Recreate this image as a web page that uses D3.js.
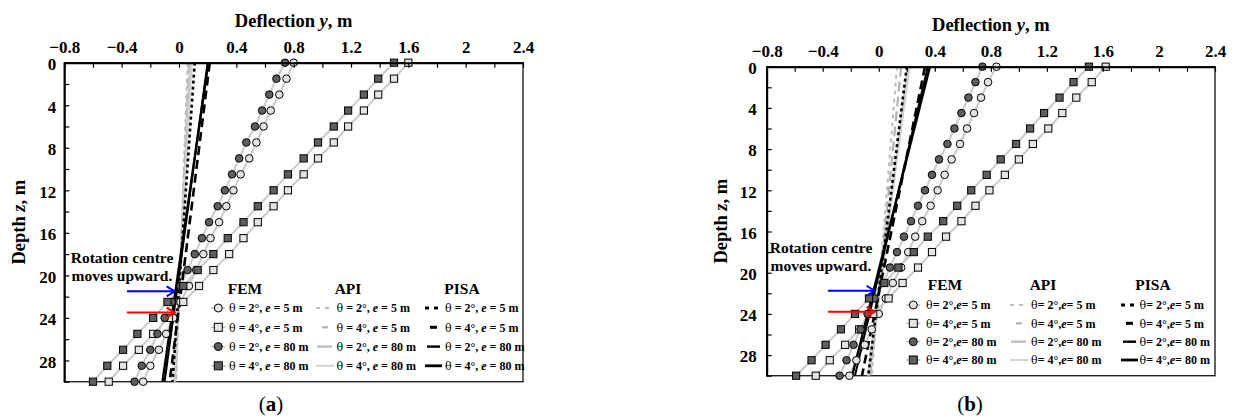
<!DOCTYPE html>
<html><head><meta charset="utf-8">
<script src="https://cdn.jsdelivr.net/npm/d3@7"></script>
<style>
body{margin:0;background:#fff;}
text{font-family:"Liberation Serif","Times New Roman",serif;}
</style>
</head><body>
<svg id="chart" width="1234" height="417"></svg>
<script>
// ---------- data ----------
const xTickValues = [-0.8,-0.4,0,0.4,0.8,1.2,1.6,2,2.4];
const xTickLabels = ["\u22120.8","\u22120.4","0","0.4","0.8","1.2","1.6","2","2.4"];
const xMinorTicks = [-0.8,-0.6,-0.4,-0.2,0,0.2,0.4,0.6,0.8,1.0,1.2,1.4,1.6,1.8,2.0,2.2,2.4];
const yTickValues = [0,4,8,12,16,20,24,28];
const yMinorTicks = [0,2,4,6,8,10,12,14,16,18,20,22,24,26,28,30];

const femDepths = [0,1.5,3,4.5,6,7.5,9,10.5,12,13.5,15,16.5,18,19.5,21,22.5,24,25.5,27,28.5,30];
const lineDepths = [0,30];

// Panel (a) FEM
const femA_t2e5  = [0.80,0.75,0.70,0.64,0.59,0.54,0.49,0.43,0.38,0.33,0.28,0.22,0.17,0.12,0.07,0.01,-0.04,-0.09,-0.14,-0.20,-0.25];
const femA_t4e5  = [1.60,1.50,1.39,1.29,1.18,1.08,0.97,0.87,0.76,0.66,0.55,0.45,0.35,0.24,0.14,0.03,-0.07,-0.18,-0.28,-0.39,-0.49];
const femA_t2e80 = [0.74,0.68,0.63,0.58,0.53,0.47,0.42,0.37,0.32,0.27,0.21,0.16,0.11,0.06,0.01,-0.05,-0.10,-0.15,-0.20,-0.26,-0.31];
const femA_t4e80 = [1.50,1.39,1.29,1.18,1.08,0.97,0.87,0.76,0.66,0.55,0.45,0.34,0.24,0.13,0.03,-0.08,-0.18,-0.29,-0.39,-0.50,-0.60];
// Panel (a) API / PISA (deflection at depth 0 and 30)
const apiA_t2e5   = [0.060,-0.020];
const apiA_t4e5   = [0.070,-0.025];
const apiA_t2e80  = [0.080,-0.030];
const apiA_t4e80  = [0.090,-0.035];
const pisaA_t2e5  = [0.110,-0.045];
const pisaA_t4e5  = [0.215,-0.065];
const pisaA_t2e80 = [0.200,-0.100];
const pisaA_t4e80 = [0.205,-0.115];

// Panel (b) FEM
const femB_t2e5  = [0.84,0.78,0.73,0.68,0.63,0.58,0.52,0.47,0.42,0.37,0.31,0.26,0.21,0.16,0.10,0.05,0.00,-0.05,-0.10,-0.16,-0.21];
const femB_t4e5  = [1.62,1.52,1.41,1.31,1.21,1.10,1.00,0.90,0.79,0.69,0.59,0.48,0.38,0.28,0.17,0.07,-0.04,-0.14,-0.24,-0.35,-0.45];
const femB_t2e80 = [0.74,0.69,0.64,0.59,0.54,0.49,0.43,0.38,0.33,0.28,0.23,0.18,0.13,0.08,0.03,-0.03,-0.08,-0.13,-0.18,-0.23,-0.28];
const femB_t4e80 = [1.50,1.39,1.29,1.18,1.08,0.98,0.87,0.77,0.66,0.56,0.46,0.35,0.25,0.14,0.04,-0.07,-0.17,-0.27,-0.38,-0.48,-0.59];
// Panel (b) API / PISA
const apiB_t2e5   = [0.130,-0.050];
const apiB_t4e5   = [0.160,-0.060];
const apiB_t2e80  = [0.210,-0.070];
const apiB_t4e80  = [0.220,-0.080];
const pisaB_t2e5  = [0.200,-0.075];
const pisaB_t4e5  = [0.330,-0.120];
const pisaB_t2e80 = [0.350,-0.170];
const pisaB_t4e80 = [0.365,-0.190];

// rotation-centre arrows: [depth of e=80 m centre, depth of e=5 m centre]
const arrowDepthsA = [21.5, 23.5];
const arrowDepthsB = [21.75, 23.8];

const legendLabels = [["2","5"],["4","5"],["2","80"],["4","80"]];

// ---------- styles ----------
const lightFill = "#e4e4e4", darkFill = "#5e5e5e", femLine = "#cacaca";
const apiStyles = [
  {stroke:"#bdbdbd", w:2,   dash:"4,4"},
  {stroke:"#b3b3b3", w:2.2, dash:"10,5"},
  {stroke:"#c4c4c4", w:2.6, dash:null},
  {stroke:"#d2d2d2", w:2,   dash:null}
];
const pisaStyles = [
  {stroke:"#000", w:2.6, dash:"3,3"},
  {stroke:"#000", w:2.6, dash:"9,5"},
  {stroke:"#000", w:2,   dash:null},
  {stroke:"#000", w:2.4, dash:null}
];
const apiLegendSeg  = [[0,17,"4,5"],[6,12,null],[1,16,null],[0,18,null]];
const pisaLegendSeg = [[0,17,"4,5"],[5,12,null],[2,15,null],[0,17,null]];

const svg = d3.select("#chart");

function drawPanel(p) {
  const g = svg.append("g");
  const x = d3.scaleLinear().domain([-0.8,2.4]).range([p.left,p.right]);
  const y = d3.scaleLinear().domain([0,30]).range([p.top,p.bottom]);

  // frame (right & bottom)
  g.append("rect").attr("x",p.left).attr("y",p.top)
    .attr("width",p.right-p.left).attr("height",p.bottom-p.top)
    .attr("fill","none").attr("stroke","#222").attr("stroke-width",1.4);

  // FEM lines
  const lineGen = vals => d3.line().x((d,i)=>x(vals[i])).y(d=>y(d));
  const fem = [
    {v:p.fem[0], shape:"circle", fill:lightFill},
    {v:p.fem[1], shape:"square", fill:lightFill},
    {v:p.fem[2], shape:"circle", fill:darkFill},
    {v:p.fem[3], shape:"square", fill:darkFill}
  ];
  fem.forEach(s=>{
    g.append("path").attr("d",lineGen(s.v)(femDepths))
      .attr("fill","none").attr("stroke",femLine).attr("stroke-width",2);
  });

  // API & PISA lines
  const drawLine = (vals, st) => {
    const pth = g.append("path").attr("d",lineGen(vals)(lineDepths))
      .attr("fill","none").attr("stroke",st.stroke).attr("stroke-width",st.w);
    if (st.dash) pth.attr("stroke-dasharray",st.dash);
  };
  p.api.forEach((v,i)=>drawLine(v,apiStyles[i]));
  p.pisa.forEach((v,i)=>drawLine(v,pisaStyles[i]));

  // FEM markers
  const drawMarker = (sel, shape, cx, cy, fill, size) => {
    if (shape==="circle") {
      sel.append("circle").attr("cx",cx).attr("cy",cy).attr("r",size/2)
        .attr("fill",fill).attr("stroke","#000").attr("stroke-width",1);
    } else {
      sel.append("rect").attr("x",cx-size/2).attr("y",cy-size/2)
        .attr("width",size).attr("height",size)
        .attr("fill",fill).attr("stroke","#000").attr("stroke-width",1);
    }
  };
  fem.forEach(s=>{
    femDepths.forEach((d,i)=>{
      drawMarker(g, s.shape, x(s.v[i]), y(d), s.fill, s.shape==="circle"?7.6:7.2);
    });
  });

  // axes
  const xAxis = g.append("g").attr("transform",`translate(0,${p.top})`)
    .call(d3.axisTop(x).tickValues(xMinorTicks).tickSizeInner(-5).tickSizeOuter(0)
      .tickPadding(p.xPad)
      .tickFormat(d=>{const k=xTickValues.findIndex(t=>Math.abs(t-d)<1e-6); return k>=0?xTickLabels[k]:"";}));
  xAxis.select(".domain").attr("stroke","#000").attr("stroke-width",2);
  xAxis.selectAll(".tick line").attr("stroke","#000").attr("stroke-width",1.2);
  xAxis.selectAll("text").attr("font-family","Liberation Serif, serif").attr("font-weight","bold")
    .attr("font-size",17).attr("fill","#000");

  const yAxis = g.append("g").attr("transform",`translate(${p.left},0)`)
    .call(d3.axisLeft(y).tickValues(yMinorTicks).tickSizeInner(-5).tickSizeOuter(0)
      .tickPadding(p.yPad)
      .tickFormat(d=>yTickValues.includes(d)?String(d):""));
  yAxis.select(".domain").attr("stroke","#000").attr("stroke-width",2);
  yAxis.selectAll(".tick line").attr("stroke","#000").attr("stroke-width",1.2);
  yAxis.selectAll("text").attr("font-family","Liberation Serif, serif").attr("font-weight","bold")
    .attr("font-size",17).attr("fill","#000").attr("dy","0.40em");

  // axis titles
  const xt = g.append("text").attr("x",(p.left+p.right)/2).attr("y",p.titleY)
    .attr("text-anchor","middle").attr("font-weight","bold").attr("font-size",18.5);
  xt.append("tspan").text("Deflection ");
  xt.append("tspan").attr("font-style","italic").text("y");
  xt.append("tspan").text(", m");

  const yt = g.append("text")
    .attr("transform",`translate(${p.yTitleX},${(p.top+p.bottom)/2}) rotate(-90)`)
    .attr("text-anchor","middle").attr("font-weight","bold").attr("font-size",18.5);
  yt.append("tspan").text("Depth ");
  yt.append("tspan").attr("font-style","italic").text("z");
  yt.append("tspan").text(", m");

  // annotation
  const ann = g.append("text").attr("x",p.annX).attr("y",p.annY)
    .attr("text-anchor","middle").attr("font-weight","bold").attr("font-size",15.5);
  ann.append("tspan").attr("x",p.annX).text("Rotation centre");
  ann.append("tspan").attr("x",p.annX).attr("dy",18).text("moves upward.");

  // arrows
  const arrowCols = ["#0000ff","#ff0000"];
  p.arrows.forEach((d,i)=>{
    const yy = y(d), x1 = x(-0.363), x2 = x(-0.03);
    g.append("line").attr("x1",x1).attr("x2",x2).attr("y1",yy).attr("y2",yy)
      .attr("stroke",arrowCols[i]).attr("stroke-width",2);
    g.append("path").attr("d",`M${x2-8},${yy-5}L${x2},${yy}L${x2-8},${yy+5}`)
      .attr("fill","none").attr("stroke",arrowCols[i]).attr("stroke-width",2);
  });

  // legend
  const L = p.legend;
  [["FEM",L.femHead],["API",L.apiHead],["PISA",L.pisaHead]].forEach(h=>{
    g.append("text").attr("x",h[1]).attr("y",L.headY).attr("text-anchor","middle")
      .attr("font-weight","bold").attr("font-size",15.5).text(h[0]);
  });
  const labelText = (tx, ty, lab) => {
    const t = g.append("text").attr("x",tx).attr("y",ty+4.2).attr("font-weight","bold").attr("font-size",12);
    t.append("tspan").attr("font-weight","normal").attr("font-family","DejaVu Serif, serif").attr("font-size",11).text("\u03b8");
    t.append("tspan").text(p.tight ? "= "+lab[0]+"\u00b0," : " = "+lab[0]+"\u00b0, ");
    t.append("tspan").attr("font-style","italic").text("e");
    t.append("tspan").text(p.tight ? "= "+lab[1]+" m" : " = "+lab[1]+" m");
  };
  legendLabels.forEach((lab,i)=>{
    const ry = L.rowY[i];
    // FEM
    g.append("line").attr("x1",L.femMark-7).attr("x2",L.femMark+7).attr("y1",ry).attr("y2",ry)
      .attr("stroke","#bbb").attr("stroke-width",1.5);
    drawMarker(g, fem[i].shape, L.femMark, ry, fem[i].fill, 8);
    labelText(L.femText, ry, lab);
    // API
    const a = apiLegendSeg[i], as = apiStyles[i];
    const al = g.append("line").attr("x1",L.apiSeg+a[0]).attr("x2",L.apiSeg+a[1]).attr("y1",ry).attr("y2",ry)
      .attr("stroke",as.stroke).attr("stroke-width",as.w);
    if (a[2]) al.attr("stroke-dasharray",a[2]);
    labelText(L.apiText, ry, lab);
    // PISA
    const b = pisaLegendSeg[i], ps = pisaStyles[i];
    const pl = g.append("line").attr("x1",L.pisaSeg+b[0]).attr("x2",L.pisaSeg+b[1]).attr("y1",ry).attr("y2",ry)
      .attr("stroke",ps.stroke).attr("stroke-width",ps.w+0.4);
    if (b[2]) pl.attr("stroke-dasharray",b[2]);
    labelText(L.pisaText, ry, lab);
  });

  // panel label
  const pl = g.append("text").attr("x",p.labX).attr("y",p.labY).attr("text-anchor","middle")
    .attr("font-size",21);
  pl.append("tspan").text("(");
  pl.append("tspan").attr("font-weight","bold").text(p.lab);
  pl.append("tspan").text(")");
}

drawPanel({
  left:64.3, right:523, top:62.7, bottom:381.7, xPad:9.5, yPad:8,
  titleY:27, yTitleX:25, annX:122, annY:263, arrows:arrowDepthsA,
  fem:[femA_t2e5,femA_t4e5,femA_t2e80,femA_t4e80],
  api:[apiA_t2e5,apiA_t4e5,apiA_t2e80,apiA_t4e80],
  pisa:[pisaA_t2e5,pisaA_t4e5,pisaA_t2e80,pisaA_t4e80],
  legend:{headY:294, femHead:245, apiHead:348, pisaHead:462, rowY:[308,327.3,346.6,365.8],
          femMark:218.3, femText:229, apiSeg:316, apiText:336.5, pisaSeg:425, pisaText:445},
  tight:false, lab:"a", labX:271, labY:411
});
drawPanel({
  left:766.7, right:1215, top:66.7, bottom:375.7, xPad:10, yPad:10,
  titleY:31, yTitleX:727, annX:821, annY:253, arrows:arrowDepthsB,
  fem:[femB_t2e5,femB_t4e5,femB_t2e80,femB_t4e80],
  api:[apiB_t2e5,apiB_t4e5,apiB_t2e80,apiB_t4e80],
  pisa:[pisaB_t2e5,pisaB_t4e5,pisaB_t2e80,pisaB_t4e80],
  legend:{headY:290, femHead:945, apiHead:1043, pisaHead:1153, rowY:[305,323.3,341.7,360],
          femMark:913.3, femText:926, apiSeg:1010, apiText:1031, pisaSeg:1121, pisaText:1139.5},
  tight:true, lab:"b", labX:970, labY:411
});
</script>
</body></html>
